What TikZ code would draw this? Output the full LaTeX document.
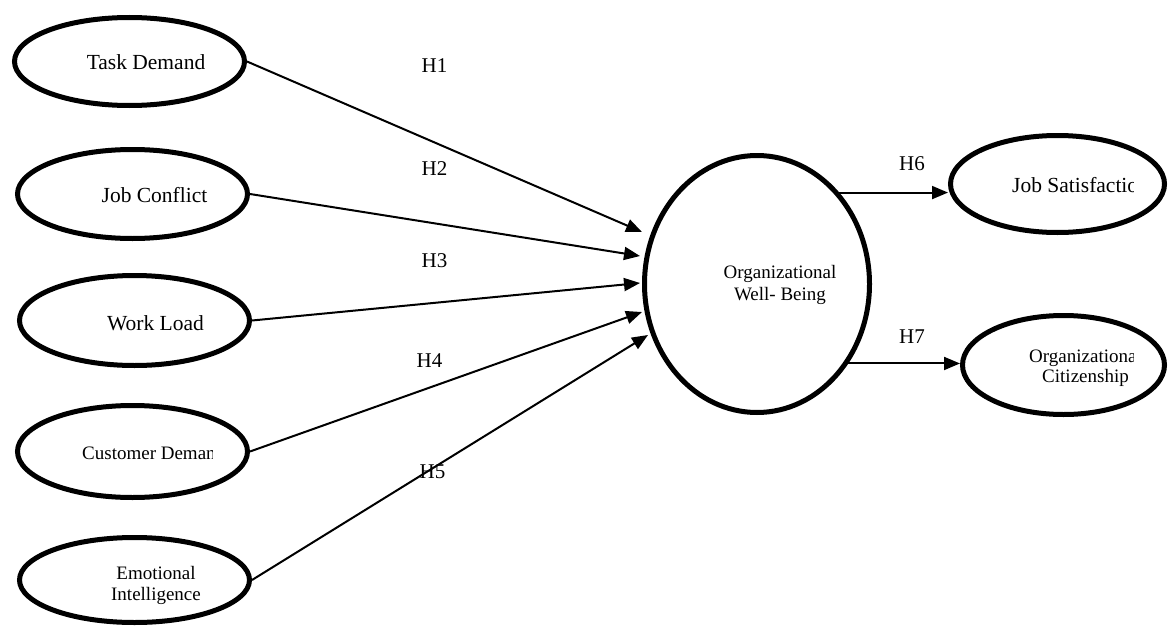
\documentclass[tikz,border=0pt]{standalone}
\usepackage{fontspec}
\setmainfont{Liberation Serif}
\usetikzlibrary{arrows.meta,shapes.geometric,calc}
\begin{document}
\begin{tikzpicture}[x=1pt,y=-1pt,
 oval/.style={draw,ellipse,line width=5pt,inner sep=0pt},
 arr/.style={line width=2pt,-{Triangle[length=16pt,width=13pt]}},
 big/.style={font=\fontsize{21.5}{26}\selectfont,inner sep=0pt},
 small/.style={font=\fontsize{19}{21}\selectfont,inner sep=0pt,align=center},
 hyp/.style={font=\fontsize{21}{25}\selectfont,inner sep=0pt,anchor=base}]
\useasboundingbox (0,0) rectangle (1169,626);

% ellipses
\node[oval,minimum width=230pt,minimum height=88pt] (td) at (129.5,61.5) {};
\node[oval,minimum width=230pt,minimum height=89pt] (jc) at (132.5,194) {};
\node[oval,minimum width=230pt,minimum height=90pt] (wl) at (134.5,320.5) {};
\node[oval,minimum width=230pt,minimum height=92pt] (cd) at (132.5,451.5) {};
\node[oval,minimum width=230pt,minimum height=85pt] (ei) at (134.5,580) {};
\node[oval,minimum width=225pt,minimum height=257pt] (ow) at (757,284) {};
\node[oval,minimum width=214pt,minimum height=97pt] (js) at (1057.5,184) {};
\node[oval,minimum width=202pt,minimum height=99pt] (oc) at (1063.5,365) {};

% texts
\node[big,anchor=base] (tdt) at (146,70) {Task Demand};
\node[big,anchor=base] (jct) at (154.5,202) {Job Conflict};
\node[big,anchor=base] (wlt) at (155.5,330) {Work Load};
\begin{scope}
\clip (0,0) rectangle (212,626);
\node[small,anchor=base west] (cdt) at (82,459) {Customer Demand};
\end{scope}
\node[small] (eit) at (156,585) {Emotional\\Intelligence};
\node[small,font=\fontsize{19}{22}\selectfont] (owt) at (780,284.5) {Organizational\\Well- Being};
\begin{scope}
\clip (0,0) rectangle (1133,626);
\node[big,anchor=base west] (jst) at (1012,192) {Job Satisfaction};
\node[small,font=\fontsize{19}{20}\selectfont] (oct) at (1085.5,367.5) {Organizational\\Citizenship};
\end{scope}

% hypothesis labels
\node[hyp] (h1) at (434.5,73) {H1};
\node[hyp] (h2) at (434.5,175) {H2};
\node[hyp] (h3) at (434.5,267) {H3};
\node[hyp] (h4) at (429.5,367) {H4};
\node[hyp] (h5) at (432.5,478) {H5};
\node[hyp] (h6) at (912,170) {H6};
\node[hyp] (h7) at (912,343) {H7};

% arrow tips near the central ellipse
\coordinate (t1) at (642,232);
\coordinate (t2) at (640,256);
\coordinate (t3) at (640,283);
\coordinate (t4) at (642,312);
\coordinate (t5) at (648,335);

\draw[arr] (td.east) -- (t1);
\draw[arr] (jc.east) -- (t2);
\draw[arr] (wl.east) -- (t3);
\draw[arr] (cd.east) -- (t4);
\draw[arr] (ei.east) -- (t5);
\draw[arr] (ow.48.6) -- (ow.48.6 -| js.west);
\draw[arr] (ow.-41.7) -- (ow.-41.7 -| oc.west);
\end{tikzpicture}
\end{document}
